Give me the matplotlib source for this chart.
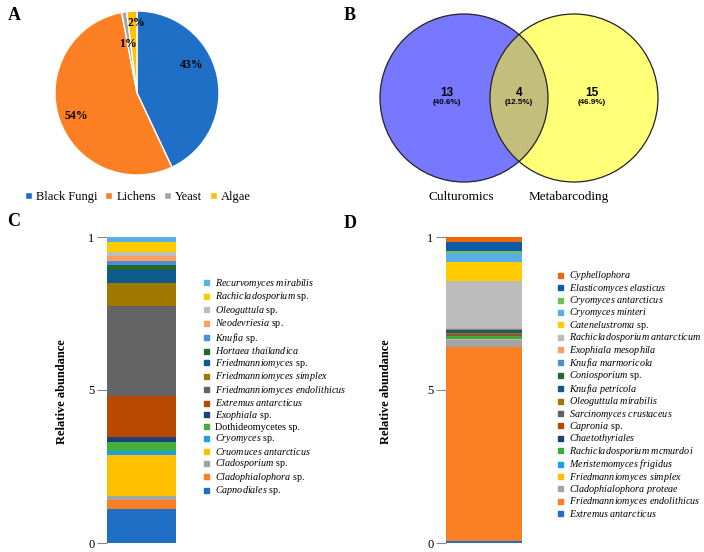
"""Four-panel figure: pie of groups, Venn of methods, two stacked abundance bars."""
import numpy as np
import matplotlib
matplotlib.use("Agg")
import matplotlib.pyplot as plt
from matplotlib.patches import Circle
from matplotlib.lines import Line2D

plt.rcParams["font.family"] = ["Liberation Serif", "DejaVu Serif"]
plt.rcParams["mathtext.fontset"] = "custom"
plt.rcParams["mathtext.it"] = "Liberation Serif:italic"
plt.rcParams["mathtext.rm"] = "Liberation Serif"

# ---- data ----
pie_labels = ["Black Fungi", "Lichens", "Yeast", "Algae"]
pie_values = [43, 54, 1, 2]
pie_colors = ["#1f6fc6", "#fd7f23", "#a5a5a5", "#ffc000"]

venn_sets = ["Culturomics", "Metabarcoding"]
venn_counts = [13, 4, 15]      # only left, shared, only right

# panel C, bottom -> top
c_names = [("Capnodiales", " sp."), ("Cladophialophora", " sp."), ("Cladosporium", " sp."),
           ("Cruomuces antarcticus", ""), ("Cryomyces", " sp."), (None, "Dothideomycetes sp."),
           ("Exophiala", " sp."), ("Extremus antarcticus", ""),
           ("Friedmanniomyces endolithicus", ""), ("Friedmanniomyces simplex", ""),
           ("Friedmanniomyces", " sp."), ("Hortaea thailandica", ""), ("Knufia", " sp."),
           ("Neodevriesia", " sp."), ("Oleoguttula", " sp."), ("Rachicladosporium", " sp."),
           ("Recurvomyces mirabilis", "")]
c_values = [0.111, 0.029, 0.015, 0.132, 0.015, 0.029, 0.014, 0.136, 0.295, 0.074,
            0.043, 0.016, 0.014, 0.015, 0.014, 0.032, 0.016]
c_colors = ["#1f6fc6", "#fd7f23", "#a5a5a5", "#ffc000", "#1ba1e2", "#44b03a", "#1f3f78",
            "#b84a00", "#646464", "#a07800", "#0e5a8e", "#26682b", "#4a8fda", "#ff9e5e",
            "#bdbdbd", "#ffcc00", "#5ab0e4"]

# panel D, bottom -> top
d_names = [("Extremus antarcticus", ""), ("Friedmanniomyces endolithicus", ""),
           ("Cladophialophora proteae", ""), ("Friedmanniomyces simplex", ""),
           ("Meristemomyces frigidus", ""), ("Rachicladosporium mcmurdoi", ""),
           ("Chaetothyriales", ""), ("Capronia", " sp."), ("Sarcinomyces crustaceus", ""),
           ("Oleoguttula mirabilis", ""), ("Knufia petricola", ""), ("Coniosporium", " sp."),
           ("Knufia marmoricola", ""), ("Exophiala mesophila", ""),
           ("Rachicladosporium antarcticum", ""), ("Catenelustroma", " sp."),
           ("Cryomyces minteri", ""), ("Cryomyces antarcticus", ""),
           ("Elasticomyces elasticus", ""), ("Cyphellophora", "")]
d_values = [0.005, 0.637, 0.021, 0.0033, 0.0022, 0.0065, 0.0022, 0.0033, 0.0033, 0.0033,
            0.0054, 0.0022, 0.0033, 0.0033, 0.154, 0.062, 0.029, 0.009, 0.027, 0.019]
d_colors = ["#1f6fc6", "#fd7f23", "#a5a5a5", "#ffc000", "#1ba1e2", "#3daa3d", "#1f3f78",
            "#b84a00", "#646464", "#a07800", "#0e5a8e", "#26682b", "#4a8fda", "#ff9e5e",
            "#bbbbbb", "#ffcc00", "#5ab0e4", "#6cc05a", "#0f5ba8", "#f0660a"]

W, H = 704, 552
fig = plt.figure(figsize=(W / 100, H / 100), dpi=100)


def box(l, t, w, h):
    return [l / W, 1 - (t + h) / H, w / W, h / H]


def fx(x, y):
    return x / W, 1 - y / H


def label(name, tail):
    if name is None:
        return tail
    return r"$\mathit{" + name.replace(" ", r"\ ") + "}$" + tail


# panel letters
for ch, (x, y) in zip("ABCD", [(14, 16), (350, 16), (14, 222), (350, 224)]):
    fig.text(*fx(x, y), ch, fontsize=13, fontweight="bold", ha="center", va="center")

# ---- A: pie ----
axa = fig.add_axes(box(55, 11, 164, 164))
wedges, _, pct = axa.pie(pie_values, colors=pie_colors, startangle=90, counterclock=False,
                         autopct="%.0f%%", wedgeprops=dict(edgecolor="white", linewidth=1))
for t, pos in zip(pct, [(0.67, 0.34), (-0.74, -0.28), (-0.11, 0.60), (-0.01, 0.85)]):
    t.set_position(pos)
    t.set_fontsize(8.5)
    t.set_fontweight("bold")
axa.set_xlim(-1, 1)
axa.set_ylim(-1, 1)
axa.set_aspect("equal")
fig.legend(wedges, pie_labels, loc="center", bbox_to_anchor=fx(138, 197), ncol=4,
           frameon=False, fontsize=9, handlelength=0.55, handleheight=0.55,
           handletextpad=0.35, columnspacing=0.6, borderpad=0)

# ---- B: venn ----
axb = fig.add_axes(box(352, 0, 352, 215))
axb.set_xlim(352, 704)
axb.set_ylim(215, 0)
axb.set_aspect("equal")
axb.axis("off")
r = 84
cl, cr, cy = 464, 574, 98
left = Circle((cl, cy), r, facecolor="#7878ff", edgecolor="none")
right = Circle((cr, cy), r, facecolor="#ffff78", edgecolor="none")
axb.add_patch(left)
axb.add_patch(right)
mid = Circle((cr, cy), r, facecolor="#c3be7c", edgecolor="none")
axb.add_patch(mid)
mid.set_clip_path(left)
for c in [(cl, cy), (cr, cy)]:
    axb.add_patch(Circle(c, r, facecolor="none", edgecolor="#222222", linewidth=0.9))
total = sum(venn_counts)
for n, x in zip(venn_counts, [447, 519, 592]):
    axb.text(x, 93, str(n), ha="center", va="center", fontsize=8.5, fontweight="bold",
             family="Liberation Sans")
    axb.text(x, 102.5, f"({100 * n / total:.1f}%)", ha="center", va="center", fontsize=5.8,
             fontweight="bold", family="Liberation Sans")
for name, x in zip(venn_sets, [461, 569]):
    axb.text(x, 197, name, ha="center", va="center", fontsize=9.5)


# ---- C & D: stacked bars ----
def stack(rect, values, colors, names, leg_x, leg_y, spacing, ylab_x):
    ax = fig.add_axes(box(*rect))
    bottoms = np.concatenate([[0], np.cumsum(values)[:-1]])
    ax.bar(0, values, bottom=bottoms, width=1, color=colors, linewidth=0)
    ax.set_xlim(-0.5, 0.5)
    ax.set_ylim(0, 1)
    ax.set_xticks([])
    ax.set_yticks([0, 0.5, 1])
    ax.set_yticklabels(["0", "5", "1"])
    ax.tick_params(axis="y", length=7, width=0.8, color="#888888", labelsize=9, pad=2)
    for s in ax.spines.values():
        s.set_visible(False)
    handles = [Line2D([], [], marker="s", color=c, linestyle="none", markersize=3.6)
               for c in colors][::-1]
    labels = [label(*n) for n in names][::-1]
    ax.legend(handles, labels, loc="center left", bbox_to_anchor=fx(leg_x, leg_y),
              bbox_transform=fig.transFigure, frameon=False, fontsize=7.3,
              handlelength=0.7, handletextpad=0.6, labelspacing=spacing, borderpad=0,
              borderaxespad=0)
    fig.text(*fx(ylab_x, 392), "Relative abundance", rotation=90, ha="center", va="center",
             fontsize=9, fontweight="bold")
    return ax


stack((107, 237, 69, 306), c_values, c_colors, c_names, 202, 387, 0.05, 62)
stack((446, 237, 76, 306), d_values, d_colors, d_names, 556, 394, -0.06, 386)

fig.savefig("out.png", dpi=100)
